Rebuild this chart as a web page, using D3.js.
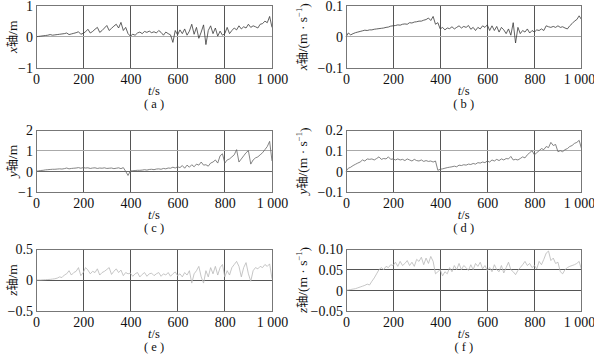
<!DOCTYPE html>
<html><head><meta charset="utf-8">
<script src="https://cdn.jsdelivr.net/npm/d3@7"></script>
<style>body{margin:0;background:#fff;}</style></head>
<body><svg id="c" width="594" height="358" font-family="Liberation Serif"></svg>
<script>
const time = d3.range(0, 1001, 10);
const xTicks = [0, 200, 400, 600, 800, 1000];
const xTickLabels = ["0", "200", "400", "600", "800", "1 000"];

const xPos = [0,0.01,0.02,0.03,0.04,0.05,0.07,0.05,0.06,0.07,0.08,0.09,0.1,0.12,0.07,0.09,0.11,0.13,0.16,0.08,
0.11,0.16,0.24,0.12,0.17,0.24,0.3,0.14,0.2,0.28,0.36,0.2,0.27,0.34,0.4,0.28,0.46,0.2,0.3,0.1,
0.02,0.08,0.05,0.12,0.15,0.1,0.17,0.14,0.18,0.13,0.16,0.12,0.2,0.14,0.05,0.15,0.1,0.06,-0.18,0.2,
0.06,0.22,0.1,0.25,0.05,0.18,0.4,0.08,0.3,-0.05,0.15,0.38,-0.25,0.2,0.35,0.1,0.28,0.02,0.18,0.05,
0.1,0.3,0.1,0.2,0.28,0.22,0.35,0.25,0.32,0.28,0.4,0.3,0.35,0.32,0.28,0.4,0.42,0.5,0.45,0.65,0.3];

const xVel = [0,0.012,0.006,0.01,0.013,0.015,0.017,0.019,0.021,0.02,0.022,0.022,0.024,0.025,0.026,0.027,0.028,0.03,0.031,0.034,
0.035,0.036,0.038,0.037,0.04,0.041,0.04,0.045,0.044,0.047,0.048,0.05,0.05,0.053,0.055,0.06,0.052,0.065,0.04,0.045,
0.025,0.03,0.022,0.028,0.026,0.032,0.025,0.03,0.035,0.028,0.033,0.03,0.036,0.024,0.03,0.02,0.03,0.025,0.035,0.03,
0.038,0.02,0.035,0.02,0.033,0.015,0.03,0.022,0.01,0.025,0.005,0.045,-0.02,0.03,0.01,0.02,0.015,0.025,0.012,0.02,
0.015,0.022,0.02,0.025,0.02,0.035,0.032,0.03,0.033,0.03,0.035,0.03,0.032,0.028,0.025,0.035,0.042,0.05,0.055,0.067,0.055];

const yPos = [0,0.02,0.04,0.05,0.07,0.08,0.09,0.1,0.1,0.11,0.12,0.11,0.13,0.16,0.12,0.14,0.15,0.16,0.18,0.15,
0.18,0.16,0.17,0.14,0.16,0.17,0.14,0.16,0.15,0.17,0.14,0.15,0.16,0.13,0.15,0.17,0.13,0.18,0.0,-0.2,
0.02,0.03,0.04,0.05,0.05,0.06,0.08,0.06,0.09,0.1,0.08,0.11,0.12,0.1,0.14,0.12,0.16,0.15,0.2,0.16,
0.22,0.18,0.28,0.15,0.3,0.2,0.32,0.22,0.35,0.3,0.45,0.3,0.32,0.25,0.4,0.45,0.55,0.4,0.75,0.85,
0.4,0.55,0.6,0.7,0.8,1.05,0.45,0.6,0.75,0.9,1.0,0.35,0.55,0.65,0.7,0.8,0.9,1.05,1.2,1.45,0.5];

const yVel = [0,0.015,0.02,0.028,0.034,0.04,0.045,0.055,0.05,0.06,0.058,0.06,0.055,0.062,0.07,0.058,0.062,0.06,0.07,0.058,
0.06,0.055,0.06,0.055,0.058,0.052,0.06,0.055,0.05,0.058,0.052,0.05,0.055,0.048,0.052,0.048,0.05,0.045,0.05,0.005,
0.01,0.012,0.015,0.018,0.02,0.022,0.025,0.022,0.03,0.028,0.032,0.03,0.035,0.033,0.038,0.035,0.042,0.04,0.045,0.042,
0.05,0.045,0.055,0.05,0.058,0.052,0.06,0.055,0.062,0.06,0.072,0.055,0.058,0.055,0.062,0.07,0.065,0.08,0.09,0.1,
0.08,0.09,0.1,0.11,0.105,0.12,0.115,0.14,0.125,0.13,0.095,0.1,0.095,0.105,0.11,0.12,0.125,0.135,0.14,0.15,0.11];

const zPos = [0,0,0,0.003,0.005,0.008,0.01,0.015,0.02,0.03,0.05,0.04,0.08,0.1,0.15,0.08,0.12,0.14,0.2,0.07,
0.12,0.2,0.16,0.1,0.14,0.12,0.18,0.08,0.12,0.14,0.17,0.2,0.09,0.14,0.18,0.12,0.16,0.07,0.12,0.1,
0.11,0.06,0.1,0.12,0.05,0.09,0.12,0.06,0.1,0.11,0.07,0.1,0.12,0.06,0.1,0.08,0.12,0.06,0.1,0.13,
0.07,0.1,0.05,0.12,0.08,0.15,-0.05,0.1,0.15,0.22,0.05,-0.05,0.15,0.05,0.2,0.1,0.22,0.08,0.2,0.25,
0.05,0.15,0.08,0.2,0.25,0.3,0.22,0.05,0.2,0.28,0.1,-0.02,0.15,0.2,0.18,0.22,0.2,0.25,0.22,0.26,0.02];

const zVel = [0,0.001,0.002,0.003,0.004,0.006,0.008,0.01,0.012,0.015,0.013,0.022,0.03,0.04,0.05,0.055,0.05,0.058,0.055,0.062,
0.06,0.068,0.058,0.07,0.06,0.065,0.072,0.06,0.068,0.058,0.075,0.07,0.08,0.062,0.078,0.065,0.082,0.07,0.04,0.045,
0.05,0.035,0.045,0.04,0.055,0.045,0.06,0.05,0.065,0.05,0.06,0.055,0.048,0.062,0.05,0.065,0.058,0.068,0.052,0.06,
0.048,0.055,0.045,0.062,0.05,0.045,0.06,0.042,0.055,0.068,0.05,0.045,0.038,0.048,0.055,0.062,0.07,0.06,0.065,0.055,
0.06,0.052,0.07,0.062,0.075,0.09,0.095,0.072,0.078,0.065,0.068,0.045,0.04,0.05,0.055,0.058,0.06,0.062,0.065,0.07,0.05];

const yTicksA = [-1, 0, 1], yLabelsA = ["\u22121", "0", "1"];
const yTicksB = [-0.1, 0, 0.1], yLabelsB = ["\u22120.1", "0", "0.1"];
const yTicksC = [-1, 0, 1, 2], yLabelsC = ["\u22121", "0", "1", "2"];
const yTicksD = [-0.1, 0, 0.1, 0.2], yLabelsD = ["\u22120.1", "0", "0.1", "0.2"];
const yTicksE = [-0.5, 0, 0.5], yLabelsE = ["\u22120.5", "0", "0.5"];
const yTicksF = [-0.05, 0, 0.05, 0.1], yLabelsF = ["\u22120.05", "0", "0.05", "0.10"];

const captions = ["a", "b", "c", "d", "e", "f"];

const cols = [[36, 272], [346, 581.5]];
const rows = [[5.5, 68], [130, 192], [249, 311]];

const SERIF = "Liberation Serif";
const CJK = "Noto Sans CJK SC";

const panels = [
  {v: xPos, t: yTicksA, l: yLabelsA, axis: "x", unit: "m", col: 0, row: 0, color: "#3a3a3a", hgrid: {"0": "#aaa"}},
  {v: xVel, t: yTicksB, l: yLabelsB, axis: "x", unit: "v", col: 1, row: 0, color: "#3a3a3a", hgrid: {"0": "#aaa"}},
  {v: yPos, t: yTicksC, l: yLabelsC, axis: "y", unit: "m", col: 0, row: 1, color: "#666", hgrid: {"0": "#666", "1": "#aaa"}},
  {v: yVel, t: yTicksD, l: yLabelsD, axis: "y", unit: "v", col: 1, row: 1, color: "#666", hgrid: {"0": "#666", "0.1": "#aaa"}},
  {v: zPos, t: yTicksE, l: yLabelsE, axis: "z", unit: "m", col: 0, row: 2, color: "#b8b8b8", hgrid: {"0": "#555"}},
  {v: zVel, t: yTicksF, l: yLabelsF, axis: "z", unit: "v", col: 1, row: 2, color: "#b8b8b8", hgrid: {"0": "#555", "0.05": "#555"}}
];

const svg = d3.select("#c");

panels.forEach((p, i) => {
  const [x0, x1] = cols[p.col];
  const [y0, y1] = rows[p.row];
  const x = d3.scaleLinear().domain([0, 1000]).range([x0, x1]);
  const y = d3.scaleLinear().domain([p.t[0], p.t[p.t.length - 1]]).range([y1, y0]);
  const g = svg.append("g");

  g.selectAll("line.vg").data([200, 400, 600, 800]).enter().append("line")
    .attr("x1", d => x(d)).attr("x2", d => x(d)).attr("y1", y0).attr("y2", y1)
    .attr("stroke", "#555").attr("stroke-width", 1).attr("shape-rendering", "crispEdges");
  const hg = p.t.slice(1, -1);
  g.selectAll("line.hg").data(hg).enter().append("line")
    .attr("x1", x0).attr("x2", x1).attr("y1", d => y(d)).attr("y2", d => y(d))
    .attr("stroke", d => p.hgrid[String(d)] || "#999").attr("stroke-width", 1).attr("shape-rendering", "crispEdges");

  const line = d3.line().x((d, k) => x(time[k])).y(d => y(d));
  g.append("path").datum(p.v).attr("d", line).attr("fill", "none")
    .attr("stroke", p.color).attr("stroke-width", 0.8);

  g.append("rect").attr("x", x0).attr("y", y0).attr("width", x1 - x0).attr("height", y1 - y0)
    .attr("fill", "none").attr("stroke", "#777").attr("stroke-width", 1).attr("shape-rendering", "crispEdges");

  const ax = d3.axisBottom(x).tickValues(xTicks).tickSize(0).tickPadding(0)
    .tickFormat((d, k) => xTickLabels[k]);
  const axg = g.append("g").attr("transform", `translate(0,${y1})`).call(ax)
    .attr("font-family", SERIF).attr("font-size", 14);
  axg.select(".domain").remove();
  axg.selectAll("text").attr("y", 0).attr("dy", "16px").attr("fill", "#111")
    .attr("dx", (d, k) => (p.col === 1 && k === xTicks.length - 1) ? -2.5 : 0);

  const ay = d3.axisLeft(y).tickValues(p.t).tickSize(0).tickPadding(3)
    .tickFormat((d, k) => p.l[k]);
  const ayg = g.append("g").attr("transform", `translate(${x0},0)`).call(ay)
    .attr("font-family", SERIF).attr("font-size", 14);
  ayg.select(".domain").remove();
  ayg.selectAll("text").attr("fill", "#111").attr("dy", "0.35em");

  const xt = g.append("text").attr("x", (x0 + x1) / 2).attr("y", y1 + 26.5).attr("text-anchor", "middle")
    .attr("font-family", SERIF).attr("font-size", 12.5).attr("fill", "#111");
  xt.append("tspan").attr("font-style", "italic").text("t");
  xt.append("tspan").text("/s");

  g.append("text").attr("x", (x0 + x1) / 2).attr("y", y1 + 40).attr("text-anchor", "middle")
    .attr("font-family", SERIF).attr("font-size", 12.5).attr("fill", "#111")
    .attr("xml:space", "preserve").text("( " + captions[i] + " )");

  const cx = p.col === 0 ? 12 : 302;
  const cy = (y0 + y1) / 2;
  const yt = g.append("text").attr("transform", `translate(${cx},${cy}) rotate(-90)`)
    .attr("text-anchor", "middle").attr("dy", "0.35em")
    .attr("font-family", SERIF).attr("font-size", 13.5).attr("fill", "#111");
  yt.append("tspan").attr("font-style", "italic").text(p.axis);
  yt.append("tspan").attr("font-family", CJK).attr("font-size", 12).text("轴");
  if (p.unit === "m") {
    yt.append("tspan").text("/m");
  } else {
    yt.append("tspan").text("/(m · s");
    yt.append("tspan").attr("font-size", 8.5).attr("dy", "-0.6em").text("\u22121");
    yt.append("tspan").attr("dy", "0.55em").text(")");
  }
});
</script></body></html>
